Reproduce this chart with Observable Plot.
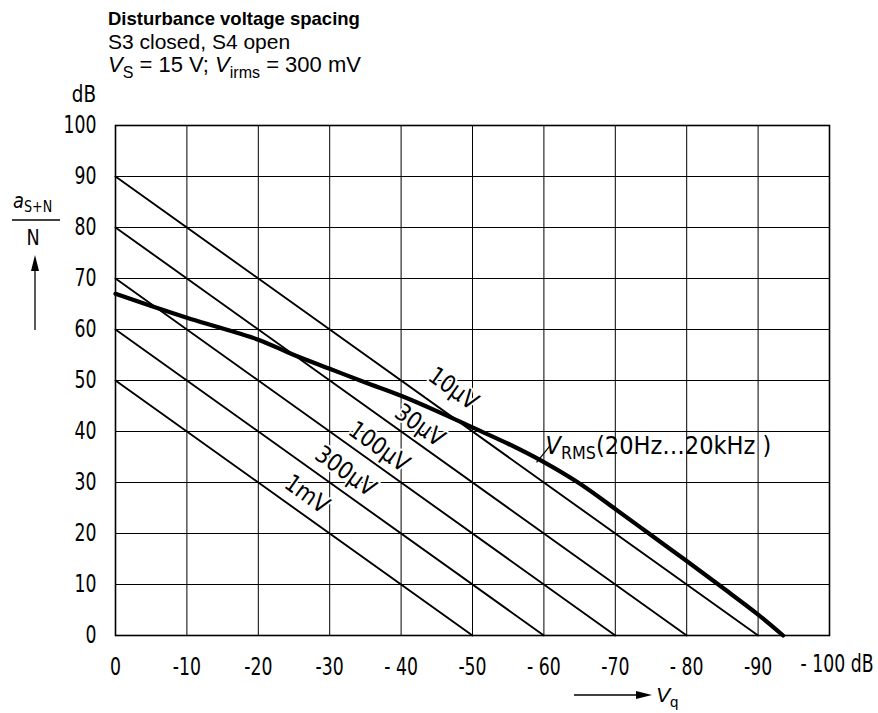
<!DOCTYPE html>
<html><head><meta charset="utf-8">
<script src="https://cdn.jsdelivr.net/npm/d3@7"></script>
<script src="https://cdn.jsdelivr.net/npm/@observablehq/plot@0.6"></script>
<style>
body{margin:0;background:#fff;}
#chart{position:relative;width:878px;height:713px;}
</style></head><body><div id="chart"></div>
<script>
// ---- data ----
const xTicks = [0, -10, -20, -30, -40, -50, -60, -70, -80, -90];
const xTickLabels = ["0", "-10", "-20", "-30", "- 40", "-50", "- 60", "-70", "- 80", "-90"];
const xEndTick = -100;
const xEndLabel = "- 100 dB";
const yTicks = [0, 10, 20, 30, 40, 50, 60, 70, 80, 90, 100];
const yTickLabels = ["0", "10", "20", "30", "40", "50", "60", "70", "80", "90", "100"];

const seriesNames = ["10µV", "30µV", "100µV", "300µV", "1mV"];
const seriesStartY = [90, 80, 70, 60, 50];   // value at x = 0
const seriesEndX = [-90, -80, -70, -60, -50]; // x where y = 0
const labelX = [-47.3, -42.6, -36.9, -32.2, -26.8];
const labelY = [48.4, 41.2, 37.0, 32.2, 27.7];

const vrmsX = [0, -5, -10, -15, -20, -25, -30, -35, -40, -45, -50, -55, -60, -65, -70, -75, -80, -85, -90, -93.5];
const vrmsY = [67, 64.6, 62.3, 60.2, 58, 55, 52.3, 49.6, 47, 44, 40.8, 37.6, 34, 29.8, 24.8, 19.7, 14.6, 9.4, 4.1, 0];

const titleText = "Disturbance voltage spacing";
const subtitleText = "S3 closed, S4 open";
const vrmsLabelAt = [-60.3, 35.4];

// ---- build ----
const lines = seriesNames.flatMap((name, i) => [
  {name, x: 0, y: seriesStartY[i]},
  {name, x: seriesEndX[i], y: 0}
]);
const vrms = vrmsX.map((x, i) => ({x, y: vrmsY[i]}));
const labels = seriesNames.map((name, i) => ({name, x: labelX[i], y: labelY[i]}));

const tickFont = "'DejaVu Sans', sans-serif";

const chart = Plot.plot({
  width: 878, height: 713,
  marginLeft: 115, marginRight: 49, marginTop: 125, marginBottom: 78,
  style: {fontFamily: tickFont, fontSize: "24px", color: "#000", background: "#fff", overflow: "visible"},
  x: {domain: [0, -100]},
  y: {domain: [0, 100]},
  marks: [
    Plot.gridX(xTicks, {stroke: "#000", strokeOpacity: 1, strokeWidth: 1}),
    Plot.gridY(yTicks, {stroke: "#000", strokeOpacity: 1, strokeWidth: 1}),
    Plot.frame({stroke: "#000", strokeWidth: 1.6}),
    Plot.line(lines, {x: "x", y: "y", z: "name", stroke: "#000", strokeWidth: 1.9}),
    Plot.line(vrms, {x: "x", y: "y", stroke: "#000", strokeWidth: 4.2, curve: "catmull-rom"}),
    Plot.text(labels, {x: "x", y: "y", text: "name", rotate: 35.5, fontSize: 24, fill: "#000",
      stroke: "#fff", strokeWidth: 4, className: "sq"}),
    Plot.axisX(xTicks, {tickSize: 0, tickPadding: 22, fontSize: 24, label: null,
      tickFormat: d => xTickLabels[xTicks.indexOf(d)]}),
    Plot.axisY(yTicks, {tickSize: 0, tickPadding: 19, fontSize: 24, label: null,
      tickFormat: d => yTickLabels[yTicks.indexOf(d)]}),
    Plot.text([xEndTick], {x: d => d, y: 0, text: () => xEndLabel, textAnchor: "end",
      dx: 44, dy: 29, fontSize: 24, fill: "#000"})
  ]
});
document.getElementById("chart").appendChild(chart);

// condense tick labels (narrow, tall technical lettering)
const svg = d3.select(chart);
svg.selectAll('g[aria-label="x-axis tick label"] text, g[aria-label="y-axis tick label"] text, g[aria-label="text"] text')
  .each(function () {
    const isSeries = this.closest("g").classList.contains("sq");
    const t = this.getAttribute("transform") || "";
    this.setAttribute("transform", t + (isSeries ? " scale(0.88,1)" : " scale(0.72,1)"));
  });

// ---- annotations ----
const sx = chart.scale("x"), sy = chart.scale("y");
const sans = "'Liberation Sans', Arial, sans-serif";
const txt = (x, y, fam, size, sxf = 1) => svg.append("text")
  .attr("transform", `translate(${x},${y}) scale(${sxf},1)`)
  .attr("text-anchor", "start").attr("font-family", fam).attr("font-size", size);

txt(108, 25, sans, 18.5).attr("font-weight", "bold").text(titleText);
txt(108, 49, sans, 21).text(subtitleText);
const l3 = txt(108, 72, sans, 22);
l3.append("tspan").attr("font-style", "italic").text("V");
l3.append("tspan").attr("font-size", 16).attr("dy", 6).text("S");
l3.append("tspan").attr("dy", -6).text(" = 15 V; ");
l3.append("tspan").attr("font-style", "italic").text("V");
l3.append("tspan").attr("font-size", 16).attr("dy", 6).text("irms");
l3.append("tspan").attr("dy", -6).text(" = 300 mV");

// dB unit above y axis
txt(96, 102, tickFont, 23, 0.8).attr("text-anchor", "end").text("dB");

// y label fraction
const yl = txt(13, 208, tickFont, 21, 0.85);
yl.append("tspan").attr("font-style", "italic").text("a");
yl.append("tspan").attr("font-size", 15).attr("dy", 4).text("S+N");
svg.append("line").attr("x1", 12).attr("x2", 60).attr("y1", 220).attr("y2", 220).attr("stroke", "#000").attr("stroke-width", 1.5);
txt(33, 245, tickFont, 22, 0.8).attr("text-anchor", "middle").text("N");
svg.append("line").attr("x1", 35).attr("x2", 35).attr("y1", 330).attr("y2", 266).attr("stroke", "#000").attr("stroke-width", 1.3);
svg.append("path").attr("d", "M35,255 L31,271 L39,271 Z").attr("fill", "#000");

// x label arrow
svg.append("line").attr("x1", 574).attr("x2", 640).attr("y1", 695).attr("y2", 695).attr("stroke", "#000").attr("stroke-width", 1.3);
svg.append("path").attr("d", "M652,695 L636,691 L636,699 Z").attr("fill", "#000");
const xl = txt(656, 702, sans, 21);
xl.append("tspan").attr("font-style", "italic").text("V");
xl.append("tspan").attr("font-size", 15).attr("dy", 5).text("q");

// VRMS label
const vx = sx.apply(vrmsLabelAt[0]), vy = sy.apply(vrmsLabelAt[1]);
svg.append("line").attr("x1", vx - 9).attr("y1", vy + 8).attr("x2", vx + 4).attr("y2", vy - 8)
  .attr("stroke", "#000").attr("stroke-width", 1.3);
const vl = txt(vx, vy, tickFont, 24, 0.94);
vl.append("tspan").attr("font-style", "italic").text("V");
vl.append("tspan").attr("font-size", 17).attr("dy", 5).text("RMS");
vl.append("tspan").attr("dy", -5).text("(20Hz…20kHz )");
</script></body></html>
